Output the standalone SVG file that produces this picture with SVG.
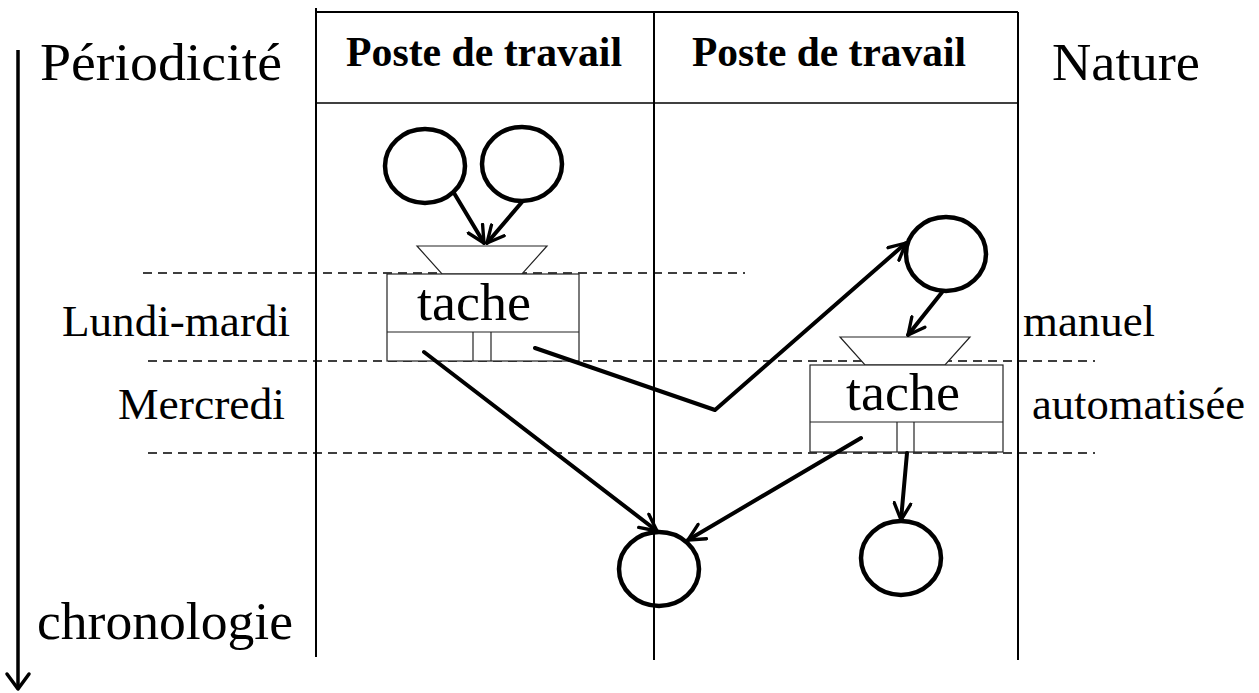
<svg xmlns="http://www.w3.org/2000/svg" width="1259" height="693" viewBox="0 0 1259 693">
<style>
.serif{font-family:"Liberation Serif","Times New Roman",serif;fill:#000}
.big{font-size:53px}
.med{font-size:44px}
.hdr{font-size:42px;font-weight:bold}
.grid{stroke:#000;stroke-width:2;fill:none}
.dash{stroke:#000;stroke-width:1.6;stroke-dasharray:9,6;fill:none}
.thin{stroke:#222;stroke-width:1.2;fill:#fff}
.place{stroke:#000;stroke-width:4.5;fill:#fff}
.arc{stroke:#000;stroke-width:4;fill:none;stroke-linecap:round;stroke-linejoin:round}
</style>
<defs>
<marker id="ah" viewBox="0 0 12 12" refX="11" refY="6" markerWidth="5" markerHeight="5" orient="auto" markerUnits="strokeWidth">
<path d="M1,1 L11,6 L1,11" fill="none" stroke="#000" stroke-width="2" stroke-linecap="round" stroke-linejoin="round"/>
</marker>
</defs>
<rect width="1259" height="693" fill="#fff"/>

<g id="grid">
<line class="grid" x1="316" y1="8" x2="316" y2="657"/>
<line class="grid" x1="654" y1="12" x2="654" y2="660"/>
<line class="grid" x1="1018" y1="12" x2="1018" y2="660"/>
<line class="grid" x1="316" y1="12" x2="1018" y2="12"/>
<line x1="316" y1="103" x2="1018" y2="103" stroke="#000" stroke-width="1.5"/>
<line class="dash" x1="143" y1="273" x2="745" y2="273"/>
<line class="dash" x1="148" y1="361" x2="1095" y2="361"/>
<line class="dash" x1="148" y1="453" x2="1095" y2="453"/>
</g>

<g id="axis">
<line x1="18" y1="50" x2="18" y2="688" stroke="#000" stroke-width="3.5"/>
<path d="M7,674 L18,689 L29,674" fill="none" stroke="#000" stroke-width="3.5" stroke-linecap="round" stroke-linejoin="round"/>
</g>

<g id="labels">
<text class="serif big" x="40" y="80" textLength="242" lengthAdjust="spacingAndGlyphs">Périodicité</text>
<text class="serif hdr" x="484" y="66" text-anchor="middle" textLength="276" lengthAdjust="spacingAndGlyphs">Poste de travail</text>
<text class="serif hdr" x="829" y="66" text-anchor="middle" textLength="274" lengthAdjust="spacingAndGlyphs">Poste de travail</text>
<text class="serif big" x="1052" y="80" textLength="148" lengthAdjust="spacingAndGlyphs">Nature</text>
<text class="serif med" x="62" y="336" textLength="228" lengthAdjust="spacingAndGlyphs">Lundi-mardi</text>
<text class="serif med" x="118" y="419" textLength="167" lengthAdjust="spacingAndGlyphs">Mercredi</text>
<text class="serif med" x="1023" y="336" textLength="132" lengthAdjust="spacingAndGlyphs">manuel</text>
<text class="serif med" x="1032" y="419" textLength="213" lengthAdjust="spacingAndGlyphs">automatisée</text>
<text class="serif big" x="37" y="639" textLength="256" lengthAdjust="spacingAndGlyphs">chronologie</text>
</g>

<g id="task1">
<polygon class="thin" points="417,246 547,246 522,274 442,274"/>
<rect class="thin" x="387" y="274" width="192" height="87"/>
<line class="thin" x1="387" y1="332" x2="579" y2="332"/>
<line class="thin" x1="473" y1="332" x2="473" y2="361"/>
<line class="thin" x1="491" y1="332" x2="491" y2="361"/>
<text class="serif big" x="474" y="320" text-anchor="middle" textLength="114" lengthAdjust="spacingAndGlyphs">tache</text>
</g>

<g id="task2">
<polygon class="thin" points="840,337 970,337 945,365 865,365"/>
<rect class="thin" x="810" y="365" width="193" height="87"/>
<line class="thin" x1="810" y1="422" x2="1003" y2="422"/>
<line class="thin" x1="897" y1="422" x2="897" y2="452"/>
<line class="thin" x1="914" y1="422" x2="914" y2="452"/>
<text class="serif big" x="903" y="410" text-anchor="middle" textLength="114" lengthAdjust="spacingAndGlyphs">tache</text>
</g>

<g id="p1"><ellipse class="place" cx="425" cy="166" rx="40" ry="37"/></g>
<g id="p2"><ellipse class="place" cx="522" cy="164" rx="40" ry="37"/></g>
<g id="p3"><ellipse class="place" cx="946" cy="254" rx="40" ry="37"/></g>
<g id="p4"><ellipse class="place" cx="659" cy="569" rx="40" ry="37"/></g>
<g id="p5"><ellipse class="place" cx="901" cy="558" rx="40" ry="37"/></g>

<line x1="654" y1="530" x2="654" y2="660" stroke="#000" stroke-width="2"/>

<g id="connectors">
<line class="arc" x1="454" y1="193" x2="484" y2="243" marker-end="url(#ah)"/>
<line class="arc" x1="522" y1="202" x2="487" y2="243" marker-end="url(#ah)"/>
<line class="arc" x1="943" y1="291" x2="908" y2="335" marker-end="url(#ah)"/>
<polyline class="arc" points="535,348 715,410 906,243" marker-end="url(#ah)"/>
<line class="arc" x1="424" y1="352" x2="657" y2="531" marker-end="url(#ah)"/>
<line class="arc" x1="861" y1="438" x2="688" y2="540" marker-end="url(#ah)"/>
<line class="arc" x1="907" y1="453" x2="901" y2="520" marker-end="url(#ah)"/>
</g>
</svg>
